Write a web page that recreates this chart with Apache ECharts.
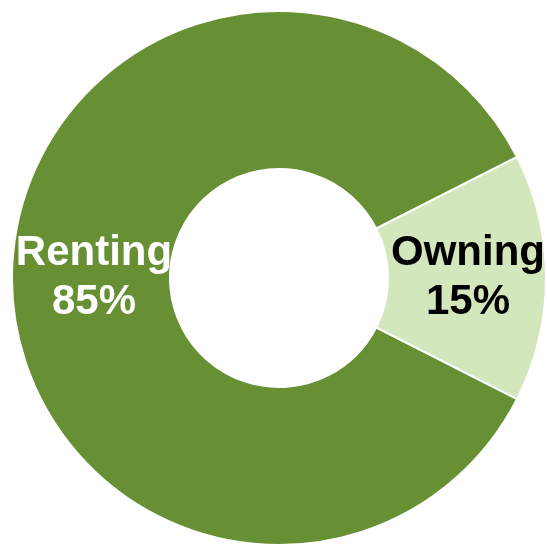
<!DOCTYPE html>
<html>
<head>
<meta charset="utf-8">
<script src="https://cdn.jsdelivr.net/npm/echarts@6/dist/echarts.min.js"></script>
<style>
  html, body { margin: 0; padding: 0; background: #fff; }
  #main { width: 547px; height: 547px; }
</style>
</head>
<body>
<div id="main"></div>
<script>
var categories = ['Owning', 'Renting'];
var shares = [15, 85];
var sliceColors = ['#d3e6bc', '#678f33'];
var labelColors = ['#000000', '#ffffff'];
var labelPadding = [[0, 4, 0, 0], [0, 0, 0, 12]];

var myChart = echarts.init(document.getElementById('main'));

var data = categories.map(function (name, i) {
    return {
        name: name,
        value: shares[i],
        itemStyle: { color: sliceColors[i] },
        label: { color: labelColors[i], padding: labelPadding[i] }
    };
});

var option = {
    animation: false,
    series: [{
        type: 'pie',
        center: [279, 278],
        radius: [109, 267],
        startAngle: 27,
        clockwise: true,
        itemStyle: {
            borderColor: '#ffffff',
            borderWidth: 2
        },
        label: {
            show: true,
            position: 'inside',
            formatter: '{b}\n{c}%',
            fontFamily: 'Liberation Sans, Arial, sans-serif',
            fontWeight: 'bold',
            fontSize: 42,
            lineHeight: 49
        },
        labelLine: { show: false },
        emphasis: { disabled: true },
        data: data
    }]
};

myChart.setOption(option);
</script>
</body>
</html>
